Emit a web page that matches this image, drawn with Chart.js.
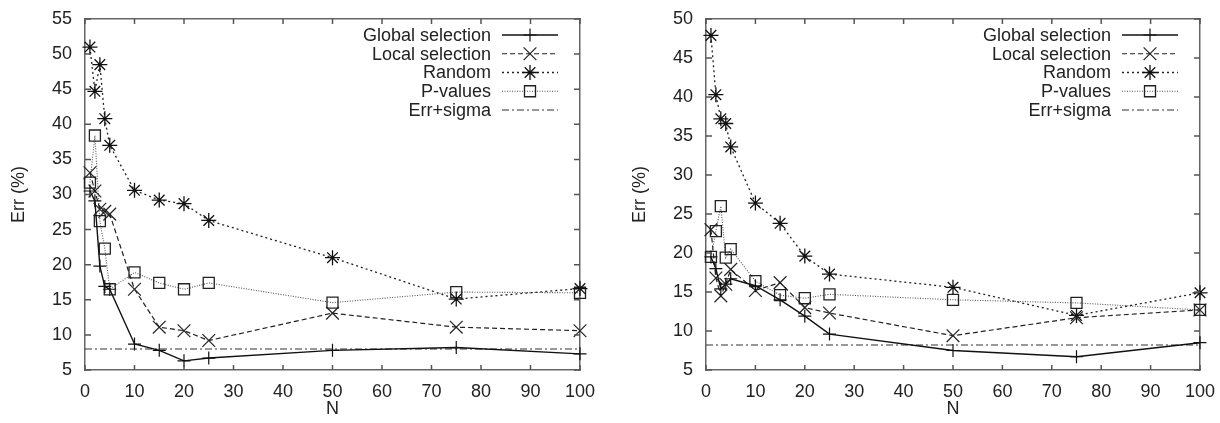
<!DOCTYPE html>
<html>
<head>
<meta charset="utf-8">
<script src="https://cdn.jsdelivr.net/npm/chart.js@4.4.0/dist/chart.umd.min.js"></script>
<style>
  body { margin: 0; background: #fff; }
  .box { position: absolute; top: 0; width: 610px; height: 423px; }
</style>
</head>
<body>
<div class="box" style="left:0"><canvas id="chartLeft" width="610" height="423"></canvas></div>
<div class="box" style="left:610px"><canvas id="chartRight" width="610" height="423"></canvas></div>
<script>
const nValues = [1, 2, 3, 4, 5, 10, 15, 20, 25, 50, 75, 100];
const sigmaN = [0, 100];
const seriesNames = ["Global selection", "Local selection", "Random", "P-values", "Err+sigma"];
const xTicks = [0, 10, 20, 30, 40, 50, 60, 70, 80, 90, 100];

// left panel
const globalLeft = [30.5, 29.1, 19.8, 16.9, 16.5, 8.7, 7.8, 6.3, 6.7, 7.8, 8.2, 7.3];
const localLeft  = [33.1, 30.5, 27.9, 27.6, 27.2, 16.5, 11.1, 10.6, 9.2, 13.1, 11.1, 10.6];
const randomLeft = [51.0, 44.7, 48.5, 40.8, 37.0, 30.6, 29.2, 28.7, 26.3, 21.0, 15.1, 16.6];
const pvalLeft   = [31.7, 38.4, 26.2, 22.3, 16.5, 18.9, 17.4, 16.5, 17.4, 14.6, 16.1, 16.0];
const sigmaLeft  = [8.0, 8.0];
const yTicksLeft = [5, 10, 15, 20, 25, 30, 35, 40, 45, 50, 55];

// right panel
const globalRight = [19.5, 18.0, 15.4, 16.0, 16.7, 15.8, 14.0, 11.9, 9.6, 7.5, 6.7, 8.5];
const localRight  = [23.0, 16.8, 14.5, 16.0, 17.9, 15.2, 16.2, 13.0, 12.3, 9.4, 11.7, 12.7];
const randomRight = [47.9, 40.3, 37.2, 36.6, 33.6, 26.4, 23.8, 19.6, 17.3, 15.6, 12.0, 14.9];
const pvalRight   = [19.5, 22.8, 26.0, 19.4, 20.5, 16.4, 14.6, 14.2, 14.7, 14.0, 13.6, 12.7];
const sigmaRight  = [8.2, 8.2];
const yTicksRight = [5, 10, 15, 20, 25, 30, 35, 40, 45, 50];

const FONT = '"Liberation Sans", Arial, sans-serif';
const FRAME = { display: true, color: '#666', width: 1.5 };

function pts(xs, ys) {
  return xs.map((x, i) => ({ x: x, y: ys[i] }));
}

// gnuplot look: inward ticks on all sides, key at top right
const gnuPlot = {
  id: 'gnuPlot',
  afterDraw(chart) {
    const ctx = chart.ctx, a = chart.chartArea;
    const sx = chart.scales.x, sy = chart.scales.y;
    ctx.save();
    ctx.setLineDash([]);
    ctx.strokeStyle = '#555';
    ctx.lineWidth = 1.5;
    ctx.beginPath();
    xTicks.forEach(v => {
      const px = sx.getPixelForValue(v);
      ctx.moveTo(px, a.bottom); ctx.lineTo(px, a.bottom - 5);
      ctx.moveTo(px, a.top); ctx.lineTo(px, a.top + 5);
    });
    const yt = chart.canvas.id === 'chartLeft' ? yTicksLeft : yTicksRight;
    yt.forEach(v => {
      const py = sy.getPixelForValue(v);
      ctx.moveTo(a.left, py); ctx.lineTo(a.left + 6, py);
      ctx.moveTo(a.right, py); ctx.lineTo(a.right - 6, py);
    });
    ctx.stroke();
    ctx.restore();

    ctx.save();
    ctx.font = '18px ' + FONT;
    ctx.textAlign = 'right';
    ctx.textBaseline = 'middle';
    chart.data.datasets.forEach((ds, i) => {
      const yy = 35 + i * 18.75;
      ctx.fillStyle = '#222';
      ctx.fillText(ds.label, a.right - 89, yy + 1);
      ctx.strokeStyle = ds.borderColor;
      ctx.lineWidth = ds.borderWidth;
      ctx.setLineDash(ds.borderDash || []);
      ctx.beginPath();
      ctx.moveTo(a.right - 78, yy);
      ctx.lineTo(a.right - 22, yy);
      ctx.stroke();
      ctx.setLineDash([]);
      if (ds.pointRadius > 0) {
        ctx.strokeStyle = ds.pointBorderColor;
        ctx.fillStyle = 'rgba(0,0,0,0)';
        ctx.lineWidth = ds.pointBorderWidth;
        Chart.helpers.drawPoint(ctx, {
          pointStyle: ds.pointStyle, radius: ds.pointRadius,
          borderWidth: ds.pointBorderWidth, rotation: 0
        }, a.right - 50, yy);
      }
    });
    ctx.restore();
  }
};

function makeDatasets(g, l, r, p, s) {
  return [
    { label: seriesNames[0], data: pts(nValues, g), borderColor: '#111', borderWidth: 1.4, borderDash: [],
      pointStyle: 'cross', pointRadius: 6.5, pointBorderColor: '#111', pointBorderWidth: 1.2 },
    { label: seriesNames[1], data: pts(nValues, l), borderColor: '#222', borderWidth: 1.2, borderDash: [5, 3],
      pointStyle: 'crossRot', pointRadius: 9, pointBorderColor: '#222', pointBorderWidth: 1.2 },
    { label: seriesNames[2], data: pts(nValues, r), borderColor: '#222', borderWidth: 1.3, borderDash: [2, 3],
      pointStyle: 'star', pointRadius: 7.5, pointBorderColor: '#111', pointBorderWidth: 1.3 },
    { label: seriesNames[3], data: pts(nValues, p), borderColor: '#555', borderWidth: 1.1, borderDash: [1, 1.5],
      pointStyle: 'rect', pointRadius: 7.8, pointBorderColor: '#222', pointBorderWidth: 1.3 },
    { label: seriesNames[4], data: pts(sigmaN, s), borderColor: '#333', borderWidth: 1.1, borderDash: [7, 3, 2, 3],
      pointRadius: 0, pointBorderWidth: 0 },
  ].map(ds => Object.assign(ds, {
    showLine: true, fill: false, tension: 0, clip: false,
    pointBackgroundColor: 'rgba(0,0,0,0)', pointHoverRadius: 0
  }));
}

function makeConfig(datasets, yMin, yMax, axisWidth, rightPad, titlePad) {
  return {
    type: 'scatter',
    data: { datasets: datasets },
    plugins: [gnuPlot],
    options: {
      responsive: false, animation: false, devicePixelRatio: 1,
      layout: { padding: { top: 19, right: rightPad, bottom: 0, left: 0 } },
      plugins: { legend: { display: false }, tooltip: { enabled: false } },
      scales: {
        x: { type: 'linear', min: 0, max: 100, grid: { display: false }, border: FRAME,
          ticks: { stepSize: 10, padding: 3, color: '#222', font: { size: 18, family: FONT } },
          title: { display: true, text: 'N', color: '#222', padding: { top: 0, bottom: 3 }, font: { size: 18, family: FONT } },
          afterFit: (scale) => { scale.height = 53; } },
        y: { type: 'linear', min: yMin, max: yMax, grid: { display: false }, border: FRAME,
          ticks: { stepSize: 5, padding: 5, color: '#222', font: { size: 18, family: FONT } },
          title: { display: true, text: 'Err (%)', color: '#222', padding: { top: titlePad, bottom: 0 }, font: { size: 18, family: FONT } },
          afterFit: (scale) => { scale.width = axisWidth; } },
        x2: { type: 'linear', position: 'top', min: 0, max: 100, grid: { display: false }, border: FRAME,
          ticks: { display: false }, afterFit: (scale) => { scale.height = 0; } },
        y2: { type: 'linear', position: 'right', min: yMin, max: yMax, grid: { display: false }, border: FRAME,
          ticks: { display: false }, afterFit: (scale) => { scale.width = 0; } }
      }
    }
  };
}

new Chart(document.getElementById('chartLeft'),
  makeConfig(makeDatasets(globalLeft, localLeft, randomLeft, pvalLeft, sigmaLeft), 5, 55, 85, 30, 8));
new Chart(document.getElementById('chartRight'),
  makeConfig(makeDatasets(globalRight, localRight, randomRight, pvalRight, sigmaRight), 5, 50, 96, 20, 19));
</script>
</body>
</html>
